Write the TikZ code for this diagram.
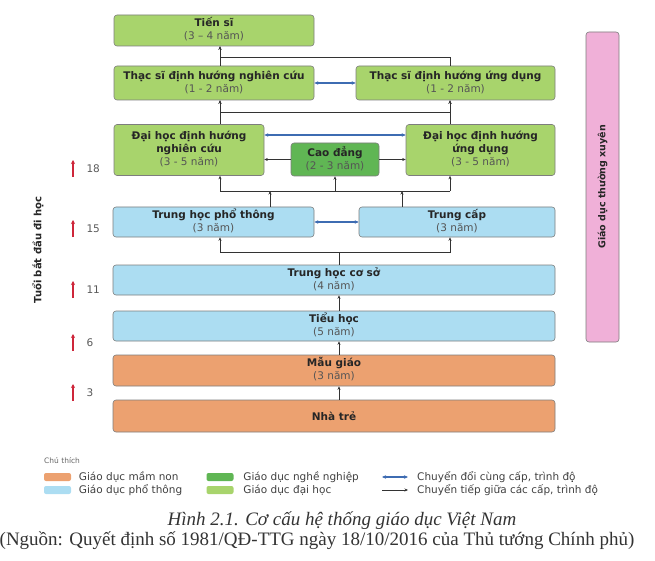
\documentclass[tikz,border=0pt]{standalone}
\usepackage{fontspec}
\setmainfont{DejaVu Sans}
\newfontfamily\figcapfont{Liberation Serif}
\usepackage{tikz}
\usetikzlibrary{positioning,arrows.meta}
\definecolor{unigreen}{RGB}{168,212,108}
\definecolor{vocgreen}{RGB}{96,182,84}
\definecolor{schoolblue}{RGB}{172,221,242}
\definecolor{preorange}{RGB}{236,161,112}
\definecolor{contpink}{RGB}{240,176,216}
\definecolor{swapblue}{RGB}{62,108,178}
\definecolor{agered}{RGB}{206,38,58}
\definecolor{yeargray}{RGB}{85,85,85}
\definecolor{edgegray}{RGB}{125,125,125}

\begin{document}
\begin{tikzpicture}[x=1pt, y=-1pt,
  level/.style={draw=edgegray, line width=0.6pt, rounded corners=3pt, inner sep=1pt, text=black!85, font=\fontsize{10.5}{13}\selectfont},
  busline/.style={line width=0.55pt, black!80},
  link/.style={busline, -{Stealth[length=3.5pt,width=3pt]}},
  swapline/.style={line width=1.3pt, swapblue, {Stealth[length=4pt,width=3.5pt]}-{Stealth[length=4pt,width=3.5pt]}},
  agetext/.style={anchor=west, text=black!65, font=\fontsize{10.5}{12}\selectfont},
  agearrow/.style={line width=1.2pt, agered, -{Stealth[length=4pt,width=4pt]}},
  swatch/.style={rounded corners=2pt, minimum width=27pt, minimum height=8pt, inner sep=0pt},
  legendtext/.style={anchor=west, inner sep=0pt, text=black!75, font=\fontsize{10.5}{12}\selectfont},
  figcap/.style={inner sep=0pt, text=black!80, font=\figcapfont\fontsize{19}{21}\selectfont}]

\useasboundingbox (0,0) rectangle (655,561);

% Tiến sĩ
\node[level, fill=unigreen, minimum width=200pt, minimum height=31pt] (ts) at (214,30.5) {\begin{tabular}{c}\textbf{Tiến sĩ}\\{\color{yeargray}(3 -- 4 năm)}\end{tabular}};

% Thạc sĩ
\node[level, fill=unigreen, minimum width=200pt, minimum height=34pt] (thsnc) at (214,83) {\begin{tabular}{c}\textbf{Thạc sĩ định hướng nghiên cứu}\\{\color{yeargray}(1 - 2 năm)}\end{tabular}};
\node[level, fill=unigreen, minimum width=199pt, minimum height=34pt] (thsud) at (455.5,83) {\begin{tabular}{c}\textbf{Thạc sĩ định hướng ứng dụng}\\{\color{yeargray}(1 - 2 năm)}\end{tabular}};

% Đại học, Cao đẳng
\node[level, fill=unigreen, minimum width=150pt, minimum height=51pt] (dhnc) at (189,150) {\begin{tabular}{c}\textbf{Đại học định hướng}\\\textbf{nghiên cứu}\\{\color{yeargray}(3 - 5 năm)}\end{tabular}};
\node[level, fill=unigreen, minimum width=149pt, minimum height=51pt] (dhud) at (480.5,150) {\begin{tabular}{c}\textbf{Đại học định hướng}\\\textbf{ứng dụng}\\{\color{yeargray}(3 - 5 năm)}\end{tabular}};
\node[level, fill=vocgreen, minimum width=88pt, minimum height=33pt] (cd) at (335,159.5) {\begin{tabular}{c}\textbf{Cao đẳng}\\{\color{yeargray}(2 - 3 năm)}\end{tabular}};

% Trung học phổ thông, Trung cấp
\node[level, fill=schoolblue, minimum width=201pt, minimum height=30pt] (thpt) at (213.5,222) {\begin{tabular}{c}\textbf{Trung học phổ thông}\\{\color{yeargray}(3 năm)}\end{tabular}};
\node[level, fill=schoolblue, minimum width=196pt, minimum height=30pt] (tc) at (457,222) {\begin{tabular}{c}\textbf{Trung cấp}\\{\color{yeargray}(3 năm)}\end{tabular}};

% Trung học cơ sở, Tiểu học
\node[level, fill=schoolblue, minimum width=442pt, minimum height=30pt] (thcs) at (334,280) {\begin{tabular}{c}\textbf{Trung học cơ sở}\\{\color{yeargray}(4 năm)}\end{tabular}};
\node[level, fill=schoolblue, minimum width=442pt, minimum height=30pt] (th) at (334,326) {\begin{tabular}{c}\textbf{Tiểu học}\\{\color{yeargray}(5 năm)}\end{tabular}};

% Mẫu giáo, Nhà trẻ
\node[level, fill=preorange, minimum width=442pt, minimum height=31pt] (mg) at (334,370.5) {\begin{tabular}{c}\textbf{Mẫu giáo}\\{\color{yeargray}(3 năm)}\end{tabular}};
\node[level, fill=preorange, minimum width=442pt, minimum height=32pt] (nt) at (334,416) {\textbf{Nhà trẻ}};

% Giáo dục thường xuyên
\node[level, fill=contpink, rotate=90, minimum width=310pt, minimum height=33pt, font=\fontsize{9.5}{11}\selectfont] (gdtx) at (602.5,187) {\textbf{Giáo dục thường xuyên}};

% Tuổi bắt đầu đi học
\node[rotate=90, text=black!85, font=\bfseries\fontsize{10}{12}\selectfont] (agelabel) at (38,250) {Tuổi bắt đầu đi học};
\foreach \age/\ypos in {18/169,15/229,11/290,6/343,3/393}{
  \node[agetext] (age\age) at (83,\ypos) {\age};
  \draw[agearrow] ([xshift=-10pt,yshift=-8pt]age\age.west) -- ([xshift=-10pt,yshift=9pt]age\age.west);
}

% columns and bus lines
\coordinate (colL) at (220,0);
\coordinate (colR) at (450,0);
\coordinate (colM) at (339,0);
\coordinate (colP) at (270,0);
\coordinate (colQ) at (402,0);
\coordinate (busA) at (220,57);
\coordinate (busB) at (220,112);
\coordinate (busC) at (220,191);
\coordinate (busD) at (220,252);
\coordinate (swapy) at (0,135);

% Arrows - to Tiến sĩ
\draw[link] (thsnc.north -| colL) -- (ts.south -| colL);
\draw[link] (thsud.north -| colR) |- (busA) -- (ts.south -| colL);

% Arrows - to Thạc sĩ
\draw[link] (dhnc.north -| colL) -- (thsnc.south -| colL);
\draw[link] (dhud.north -| colR) -- (thsud.south -| colR);
\draw[link] (dhnc.north -| colL) -- (busB) -| (thsud.south -| colR);
\draw[link] (dhud.north -| colR) |- (busB) -- (thsnc.south -| colL);

% Arrows - to Đại học, Cao đẳng
\draw[busline] (busC) -- (busC -| colR);
\draw[link] (busC) -- (dhnc.south -| colL);
\draw[link] (busC -| cd) -- (cd.south);
\draw[link] (busC -| colR) -- (dhud.south -| colR);
\draw[link] (thpt.north -| colP) -- (busC -| colP);
\draw[link] (tc.north -| colQ) -- (busC -| colQ);
\draw[link] (cd.west) -- (dhnc.east |- cd.west);
\draw[link] (cd.east) -- (dhud.west |- cd.east);

% Arrows - to Trung học phổ thông, Trung cấp
\draw[link] (thcs.north -| colM) |- (busD) -- (thpt.south -| colL);
\draw[link] (thcs.north -| colM) |- (busD -| colR) -- (tc.south -| colR);

% Arrows - lower levels
\draw[link] (th.north -| colM) -- (thcs.south -| colM);
\draw[link] (mg.north -| colM) -- (th.south -| colM);
\draw[link] (nt.north -| colM) -- (mg.south -| colM);

% Arrows - same level (blue)
\draw[swapline] (thsnc.east) -- (thsud.west);
\draw[swapline] (dhnc.east |- swapy) -- (dhud.west |- swapy);
\draw[swapline] (thpt.east) -- (tc.west);

% Legend
\node[legendtext, text=black!60, font=\fontsize{7.5}{9}\selectfont] (legtitle) at (44,461) {Chú thích};
\node[swatch, fill=preorange] (sw1) at (57.5,477) {};
\node[legendtext, right=7.5pt of sw1] (lt1) {Giáo dục mầm non};
\node[swatch, fill=schoolblue] (sw2) at (57.5,490) {};
\node[legendtext, right=7.5pt of sw2] (lt2) {Giáo dục phổ thông};
\node[swatch, fill=vocgreen] (sw3) at (220,477) {};
\node[legendtext, right=9.5pt of sw3] (lt3) {Giáo dục nghề nghiệp};
\node[swatch, fill=unigreen] (sw4) at (220,490) {};
\node[legendtext, right=9.5pt of sw4] (lt4) {Giáo dục đại học};
\coordinate (lg5a) at (382,477);
\coordinate (lg5b) at (408,477);
\draw[swapline] (lg5a) -- (lg5b);
\node[legendtext, right=9pt of lg5b] (lt5) {Chuyển đổi cùng cấp, trình độ};
\coordinate (lg6a) at (382,490);
\coordinate (lg6b) at (408,490);
\draw[link] (lg6a) -- (lg6b);
\node[legendtext, right=9pt of lg6b] (lt6) {Chuyển tiếp giữa các cấp, trình độ};

% Caption
\node[figcap] (capline1) at (342,521) {\itshape Hình 2.1. Cơ cấu hệ thống giáo dục Việt Nam};
\node[figcap] (capline2) at (317,541) {(Nguồn: Quyết định số 1981/QĐ-TTG ngày 18/10/2016 của Thủ tướng Chính phủ)};

\end{tikzpicture}
\end{document}
